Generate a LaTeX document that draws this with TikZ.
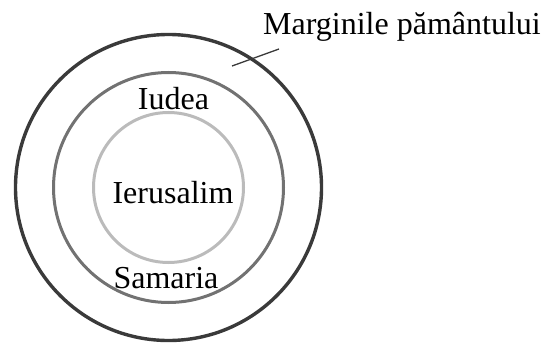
\documentclass[tikz,border=0pt]{standalone}
\usepackage{fontspec}
\setmainfont{Liberation Serif}
\definecolor{outerc}{HTML}{3A3A3A}
\definecolor{midc}{HTML}{727272}
\definecolor{innerc}{HTML}{BBBBBB}
\begin{document}
\begin{tikzpicture}[x=1pt,y=-1pt,
  ring/.style={circle,inner sep=0pt,outer sep=0pt},
  lbl/.style={font=\fontsize{32}{38}\selectfont,anchor=base,inner sep=0pt,text=black}]
\useasboundingbox (0,0) rectangle (545,342);
\node[ring,draw=outerc,line width=3.4pt,minimum size=306pt] (outer) at (168.5,187.5) {};
\node[ring,draw=midc,line width=3pt,minimum size=230pt] (middle) at (168.5,187.5) {};
\node[ring,draw=innerc,line width=3pt,minimum size=150pt] (inner) at (168.5,187.5) {};
\node[lbl] (iudea) at (173.5,110) {Iudea};
\node[lbl] (ierusalim) at (173,203) {Ierusalim};
\node[lbl] (samaria) at (166,288) {Samaria};
\node[lbl,anchor=base west] (marg) at (263,35) {Marginile pământului};
\coordinate (lp) at (232,66);
\coordinate (le) at (279,49);
\draw[outerc,line width=1.3pt] (lp) -- (le);
\end{tikzpicture}
\end{document}
